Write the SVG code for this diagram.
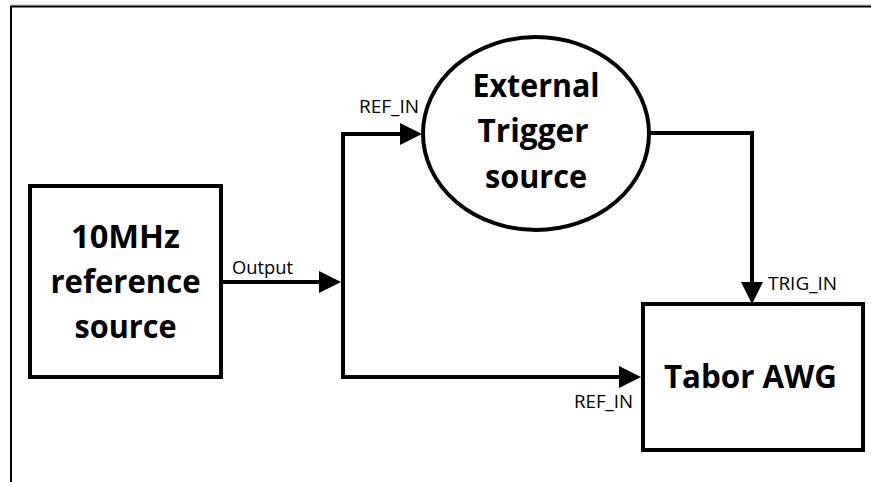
<svg xmlns="http://www.w3.org/2000/svg" width="871" height="482" viewBox="0 0 871 482">
<style>
.node{fill:#fff;stroke:#000;stroke-width:4}
.big{font-family:"Open Sans","Noto Sans","Liberation Sans",sans-serif;font-weight:bold;font-size:33px;fill:#000;text-anchor:middle}
.lbl{font-family:"Open Sans","Noto Sans","Liberation Sans",sans-serif;font-size:18.5px;fill:#000}
.conn{fill:none;stroke:#000;stroke-width:4;stroke-linejoin:miter}
</style>
<defs>
<marker id="arr" markerUnits="userSpaceOnUse" markerWidth="22" markerHeight="22" refX="12" refY="11" orient="auto">
<path d="M0,0 L22,11 L0,22 Z" fill="#000"/>
</marker>
</defs>
<rect width="871" height="482" fill="#fff"/>
<g id="frame">
<line x1="11" y1="5" x2="871" y2="5" stroke="#bbb" stroke-width="1"/>
<line x1="10" y1="6.5" x2="871" y2="6.5" stroke="#000" stroke-width="2"/>
<line x1="11" y1="6" x2="11" y2="482" stroke="#000" stroke-width="2"/>
</g>
<g id="connectors">
<path class="conn" d="M221,282 H331" marker-end="url(#arr)"/>
<path class="conn" d="M343,377 V134 H412" marker-end="url(#arr)"/>
<path class="conn" d="M341,377 H631" marker-end="url(#arr)"/>
<path class="conn" d="M650,133 H752 V294" marker-end="url(#arr)"/>
<text class="lbl" x="232" y="274" textLength="61" lengthAdjust="spacingAndGlyphs">Output</text>
<text class="lbl" x="359" y="113" textLength="60" lengthAdjust="spacingAndGlyphs">REF_IN</text>
<text class="lbl" x="768" y="290" textLength="69" lengthAdjust="spacingAndGlyphs">TRIG_IN</text>
<text class="lbl" x="574" y="408" textLength="59" lengthAdjust="spacingAndGlyphs">REF_IN</text>
</g>
<g id="ref-source">
<rect class="node" x="30" y="186" width="191" height="191"/>
<text class="big" x="125.5" y="248" textLength="109" lengthAdjust="spacingAndGlyphs">10MHz</text>
<text class="big" x="125.5" y="293" textLength="150" lengthAdjust="spacingAndGlyphs">reference</text>
<text class="big" x="125.5" y="338" textLength="102" lengthAdjust="spacingAndGlyphs">source</text>
</g>
<g id="trigger-source">
<ellipse class="node" cx="536" cy="133.5" rx="113" ry="96.5"/>
<text class="big" x="536" y="97" textLength="127" lengthAdjust="spacingAndGlyphs">External</text>
<text class="big" x="533" y="142" textLength="111" lengthAdjust="spacingAndGlyphs">Trigger</text>
<text class="big" x="536" y="188" textLength="102" lengthAdjust="spacingAndGlyphs">source</text>
</g>
<g id="tabor-awg">
<rect class="node" x="643" y="304" width="220" height="146"/>
<text class="big" x="750.5" y="388" textLength="173" lengthAdjust="spacingAndGlyphs">Tabor AWG</text>
</g>
</svg>
